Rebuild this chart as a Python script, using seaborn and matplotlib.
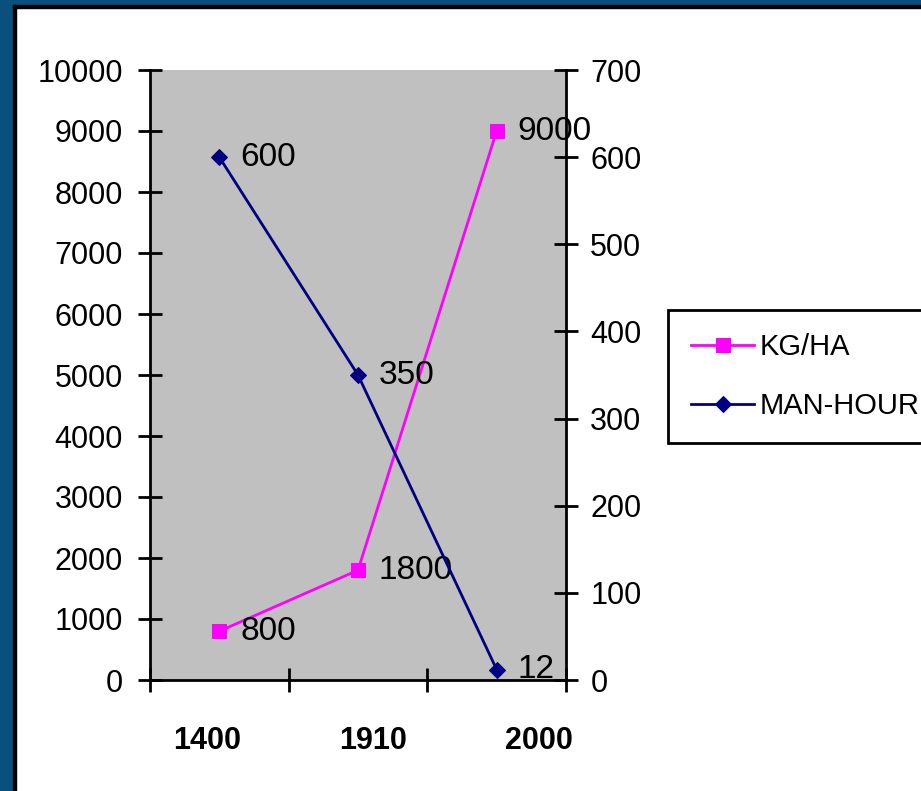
import matplotlib
matplotlib.use("Agg")
import matplotlib.pyplot as plt
from matplotlib.patches import Rectangle
import matplotlib.ticker as mticker
import matplotlib.transforms as mtransforms
import numpy as np
import pandas as pd
import seaborn as sns

# ---- data ----
years = ["1400", "1910", "2000"]
kg_ha = [800, 1800, 9000]
man_hour = [600, 350, 12]
series_names = ["KG/HA", "MAN-HOUR"]
left_ticks = [0, 1000, 2000, 3000, 4000, 5000, 6000, 7000, 8000, 9000, 10000]
right_ticks = [0, 100, 200, 300, 400, 500, 600, 700]

plt.rcParams['font.family'] = ['Liberation Sans', 'DejaVu Sans']

W, H = 921, 791
fig = plt.figure(figsize=(W / 100, H / 100), dpi=100)
fig.patch.set_facecolor("white")

# frame (blue strip + black line)
blue = "#0B4F7D"
fig.patches.append(Rectangle((0, 0), 13 / W, 1, transform=fig.transFigure, color=blue, zorder=0))
fig.patches.append(Rectangle((0, 1 - 5 / H), 1, 5 / H, transform=fig.transFigure, color=blue, zorder=0))
fig.patches.append(Rectangle((13 / W, 0), 3 / W, 1 - 5 / H, transform=fig.transFigure, color="black", zorder=0))
fig.patches.append(Rectangle((13 / W, 1 - 8 / H), 1 - 13 / W, 3 / H, transform=fig.transFigure, color="black", zorder=0))

left, right, bottom, top = 150 / W, 566 / W, 1 - 680 / H, 1 - 70 / H
ax = fig.add_axes([left, bottom, right - left, top - bottom])
ax.set_facecolor("#C0C0C0")
ax2 = ax.twinx()
ax2.patch.set_visible(False)

pos = np.arange(len(years)) + 0.5
df = pd.DataFrame({"pos": pos, "year": years, "kg": kg_ha, "mh": man_hour})

sns.lineplot(data=df, x="pos", y="kg", ax=ax, color="#FF00FF", marker="s", markersize=10,
             markeredgecolor="#FF00FF", linewidth=2, label=series_names[0], legend=False)
sns.lineplot(data=df, x="pos", y="mh", ax=ax2, color="#000080", marker="D", markersize=8.5,
             markeredgecolor="#000080", linewidth=2, label=series_names[1], legend=False)

ax.set_xlim(0, len(years))
ax.set_ylim(0, 10000)
ax2.set_ylim(0, 700)
ax.set_xlabel("")
ax.set_ylabel("")
ax2.set_ylabel("")

ax.set_yticks(left_ticks)
ax.set_yticklabels([str(t) for t in left_ticks])
ax2.set_yticks(right_ticks)
ax2.set_yticklabels([str(t) for t in right_ticks])

ax.set_xticks(pos)
ax.set_xticklabels(years, fontsize=22, fontweight="bold")
ax.xaxis.set_minor_locator(mticker.FixedLocator(np.arange(len(years) + 1)))
ax.tick_params(axis="x", which="major", length=0, pad=33)
ax.tick_params(axis="x", which="minor", length=17, width=2, direction="inout", color="black")
ax.tick_params(axis="y", which="major", length=17, width=2, direction="inout", labelsize=22, pad=11)
ax2.tick_params(axis="y", which="major", length=17, width=2, direction="inout", labelsize=22, pad=9)
ax2.tick_params(axis="x", length=0)

# shift category labels like the original layout
label_shift_px = [-12, 15, 42]
for lbl, dx in zip(ax.get_xticklabels(), label_shift_px):
    lbl.set_transform(lbl.get_transform() + mtransforms.ScaledTranslation(dx / 100, 0, fig.dpi_scale_trans))

for a in (ax, ax2):
    a.spines["top"].set_visible(False)
    for s in ("left", "right", "bottom"):
        a.spines[s].set_color("black")
        a.spines[s].set_linewidth(2)
ax.spines["right"].set_visible(False)
ax2.spines["left"].set_visible(False)
ax2.spines["bottom"].set_visible(False)

for p, v in zip(pos, kg_ha):
    ax.annotate(str(v), (p, v), xytext=(15, 0), textcoords="offset points", va="center", ha="left",
                fontsize=24, annotation_clip=False, zorder=5)
for p, v in zip(pos, man_hour):
    ax2.annotate(str(v), (p, v), xytext=(15, 0), textcoords="offset points", va="center", ha="left",
                 fontsize=24, annotation_clip=False, zorder=5)

h1, l1 = ax.get_legend_handles_labels()
h2, l2 = ax2.get_legend_handles_labels()
for a in (ax, ax2):
    if a.get_legend() is not None:
        a.get_legend().remove()
leg = fig.legend(h1 + h2, l1 + l2, loc="upper left", bbox_to_anchor=(668 / W, 1 - 310 / H),
                 borderaxespad=0, fontsize=21, handlelength=2.15, handletextpad=0.2,
                 borderpad=0.8, labelspacing=1.05, frameon=True, fancybox=False,
                 framealpha=1, edgecolor="black", numpoints=1)
leg.get_frame().set_linewidth(2)

fig.savefig("out.png", dpi=100, facecolor="white")
